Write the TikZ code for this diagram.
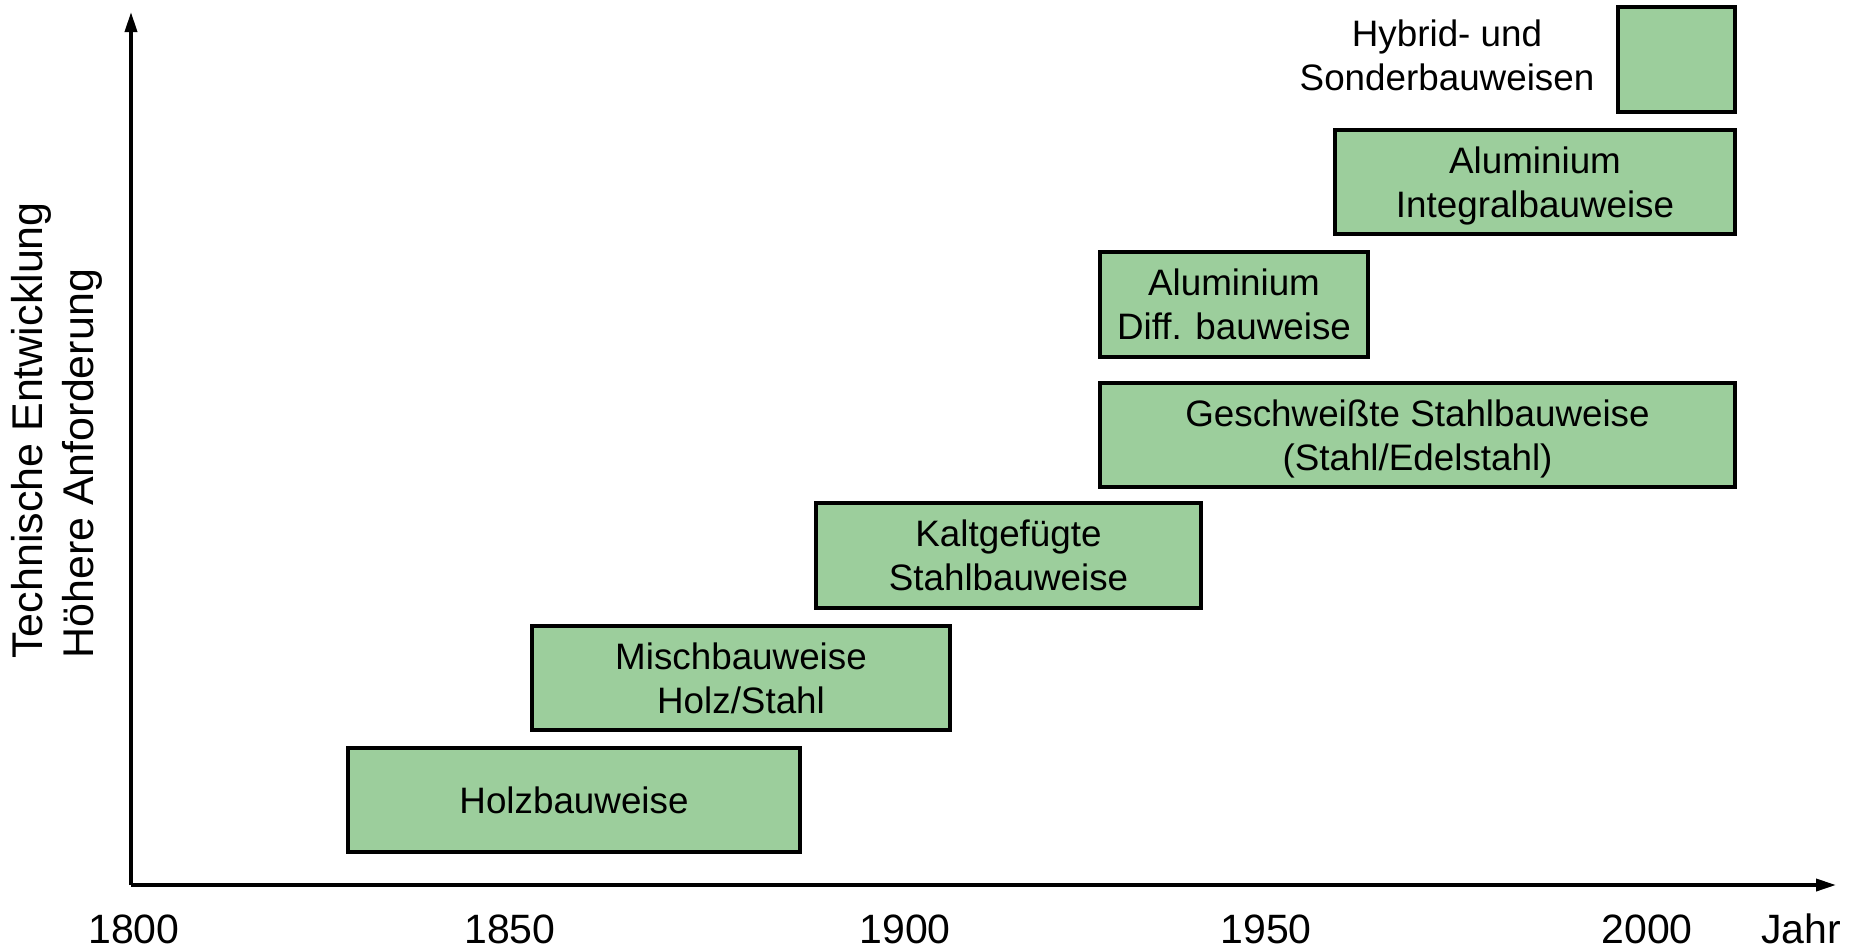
\documentclass[tikz,border=0pt]{standalone}
\usepackage{fontspec}
\setmainfont{Liberation Sans}
\usetikzlibrary{arrows.meta}
\definecolor{boxgreen}{HTML}{9CCE9C}
\newcommand{\lowered}[1]{\raisebox{-2.5pt}[\height][\depth]{\begin{tabular}{@{}c@{}}#1\end{tabular}}}
\tikzset{
  phase/.style={draw=black, fill=boxgreen, line width=1.8pt, inner sep=0pt, outer sep=0pt,
    minimum height=52pt, align=center, font=\fontsize{18.4}{22}\selectfont},
  axis/.style={line width=1.8pt, -{Triangle[length=10pt,width=6pt]}},
  tick/.style={anchor=base, inner sep=0pt, font=\fontsize{20.5}{24}\selectfont},
}
\begin{document}
\begin{tikzpicture}[x=0.5pt,y=-0.5pt]
\useasboundingbox (0,0) rectangle (1855,950);
% axes
\coordinate (O) at (131,885);
\coordinate (Ytop) at (131,12);
\coordinate (Xend) at (1836,885);
\draw[axis] (O) -- (Ytop);
\draw[axis] (O) -- (Xend);
% y label
\node[rotate=90, anchor=west, inner sep=0pt, align=left, font=\fontsize{21.5}{25.5}\selectfont] (ylab) at (57,659)
  {Technische Entwicklung\\Höhere Anforderung};
% ticks
\node[tick] (t1800) at (134,943) {1800};
\node[tick] (t1850) at (510,943) {1850};
\node[tick] (t1900) at (905,943) {1900};
\node[tick] (t1950) at (1266,943) {1950};
\node[tick] (t2000) at (1647,943) {2000};
\node[tick] (tjahr) at (1801,943) {Jahr};
% boxes
\node[phase, minimum width=226pt] (holz) at (574,800) {Holzbauweise};
\node[phase, minimum width=209pt] (misch) at (741,678) {Mischbauweise\\Holz/Stahl};
\node[phase, minimum width=192.5pt, minimum height=52.5pt] (kalt) at (1008.5,555.5) {Kaltgefügte\\Stahlbauweise};
\node[phase, minimum width=317.5pt] (gesch) at (1417.5,435) {\lowered{Geschweißte Stahlbauweise\\(Stahl/Edelstahl)}};
\node[phase, minimum width=134pt, minimum height=52.5pt] (aludiff) at (1234,304.5) {Aluminium\\Diff. bauweise};
\node[phase, minimum width=200pt] (aluint) at (1535,182) {\lowered{Aluminium\\Integralbauweise}};
\node[phase, minimum width=58.5pt, minimum height=52.5pt] (hybrid) at (1676.5,59.5) {};
\node[align=center, inner sep=0pt, font=\fontsize{18.4}{22}\selectfont] (hybridtxt) at (1447,55) {Hybrid- und\\Sonderbauweisen};
\end{tikzpicture}
\end{document}
